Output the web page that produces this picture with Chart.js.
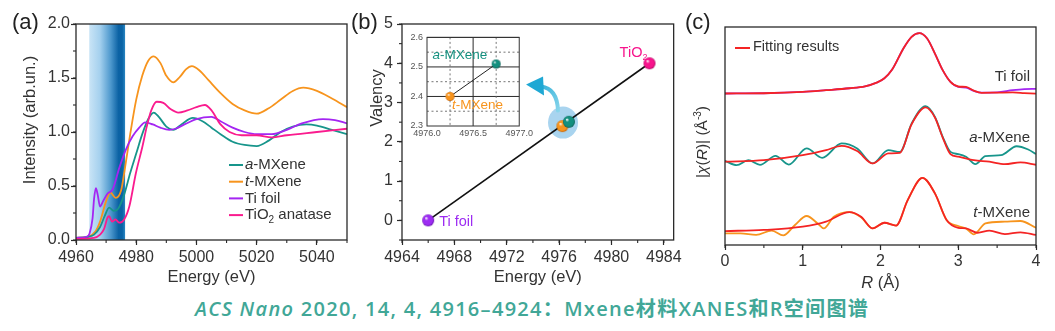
<!DOCTYPE html>
<html><head><meta charset="utf-8">
<script src="https://cdn.jsdelivr.net/npm/chart.js@4.4.1/dist/chart.umd.min.js"></script>
<style>
html,body{margin:0;padding:0;background:#fff;}
#wrap{position:relative;width:1055px;height:331px;overflow:hidden;background:#fff;}
canvas{position:absolute;}
.pl{position:absolute;font-family:'Liberation Sans',Arial,sans-serif;font-size:22px;line-height:22px;color:#222;}
#cap{position:absolute;left:195px;top:297px;font-family:'Open Sans','Noto Sans CJK SC',sans-serif;font-weight:600;font-size:20px;letter-spacing:1.3px;line-height:24px;color:#41a797;white-space:nowrap;}
</style></head><body>
<div id="wrap">
<canvas id="cA" width="352" height="295" style="left:0;top:0"></canvas>
<canvas id="cB" width="335" height="295" style="left:350px;top:0"></canvas>
<canvas id="cI" width="140" height="115" style="left:395px;top:28px"></canvas>
<canvas id="cC" width="375" height="295" style="left:680px;top:0"></canvas>
<div class="pl" style="left:12px;top:11px">(a)</div>
<div class="pl" style="left:351px;top:11px">(b)</div>
<div class="pl" style="left:685px;top:11px">(c)</div>
<div id="cap"><i>ACS Nano</i> 2020, 14, 4, 4916–4924：Mxene材料XANES和R空间图谱</div>
</div>
<script>
const FONT = "'Liberation Sans', Arial, sans-serif";
const NARROW = "'Liberation Sans Narrow', 'Arial Narrow', 'Liberation Sans', Arial, sans-serif";
const INK = '#2a2a2a';

// ---------- Panel (a): Ti K-edge XANES ----------
const xanesXTicks = [4960, 4980, 5000, 5020, 5040];
const xanesYTicks = [0, 0.5, 1.0, 1.5, 2.0];
const edgeBand = [4964.4, 4976.3];
const xanesNames = ['a-MXene', 't-MXene', 'Ti foil', 'TiO2 anatase'];
const xanesColors = ['#17958b', '#f7941d', '#a425f2', '#fa1b8e'];

const aMxE = [4960,4964,4966,4968,4969.5,4971,4972.5,4974,4976,4978,4980,4982,4984,4985.8,4987.5,4990,4992.3,4995,4998.8,5002,5005,5008,5012,5016,5020,5024,5028,5032,5036.5,5040,5045,5050];
const aMxI = [0.02,0.03,0.05,0.12,0.22,0.30,0.27,0.29,0.42,0.62,0.80,0.98,1.12,1.18,1.14,1.05,1.02,1.07,1.13,1.10,1.04,0.98,0.91,0.88,0.87,0.92,1.00,1.05,1.07,1.06,1.02,0.98];

const tMxE = [4960,4964,4966.5,4968,4970,4971.4,4973.2,4975,4976,4978,4980,4982,4984,4985.8,4988,4990,4992.3,4994.5,4996.5,4998.5,5001,5004,5008,5012,5016,5020,5024,5028,5032,5035.5,5040,5045,5050];
const tMxI = [0.02,0.03,0.08,0.17,0.36,0.44,0.39,0.46,0.62,0.98,1.30,1.52,1.66,1.70,1.64,1.52,1.46,1.51,1.58,1.61,1.57,1.48,1.36,1.26,1.20,1.17,1.22,1.30,1.38,1.41,1.38,1.31,1.23];

const tiE = [4960,4963.5,4964.5,4965.5,4966,4966.6,4967.2,4968,4969,4970.5,4972.2,4974.4,4976.6,4978.8,4981,4983,4985.5,4988,4991,4993,4996,5000,5005,5008,5012,5016,5020,5025,5030,5035,5042,5046,5050];
const tiI = [0.02,0.03,0.06,0.20,0.38,0.48,0.42,0.31,0.36,0.43,0.47,0.67,0.84,0.96,1.04,1.09,1.07,1.04,1.02,1.03,1.07,1.12,1.14,1.10,1.04,1.00,0.98,0.98,1.02,1.08,1.12,1.11,1.08];

const tio2E = [4960,4966,4968,4969.3,4970.5,4971,4972,4973.1,4974.4,4976,4977.7,4979.9,4982.1,4983.5,4985,4986.8,4989,4991.5,4994,4997,5000,5002.8,5005,5008,5011,5015,5020,5025,5030,5040,5050];
const tio2I = [0.01,0.02,0.05,0.10,0.21,0.22,0.17,0.19,0.16,0.19,0.31,0.62,0.87,1.05,1.20,1.28,1.27,1.21,1.18,1.20,1.23,1.25,1.20,1.07,1.00,0.97,0.97,0.95,0.97,1.00,1.03];

// ---------- Panel (b): valency vs edge energy ----------
const valNames = ['Ti foil', 't-MXene', 'a-MXene', 'TiO2'];
const valEnergy = [4966.0, 4976.25, 4976.75, 4982.9];
const valValency = [0, 2.40, 2.51, 4.00];
const valColors = ['#9d2cf2', '#f7941d', '#14907f', '#f7148c'];
const valDark = ['#5e0aa8', '#c25f00', '#05574c', '#a8005a'];
const fitE = [4966.0, 4982.9];
const fitV = [0, 4.0];
const valXTicks = [4964, 4968, 4972, 4976, 4980, 4984];
const valYTicks = [0, 1, 2, 3, 4, 5];
const insetXTicks = [4976.0, 4976.5, 4977.0];
const insetYTicks = [2.3, 2.4, 2.5, 2.6];
const highlight = [4976.3, 2.49];

// ---------- Panel (c): |chi(R)| ----------
const rXTicks = [0, 1, 2, 3, 4];
const rTiR   = [0,0.5,1.0,1.3,1.6,1.8,1.95,2.05,2.15,2.3,2.4,2.5,2.6,2.7,2.8,2.9,3.0,3.1,3.2,3.3,3.5,3.7,3.85,4.0];
const rTiY   = [6.95,6.96,7.02,7.10,7.19,7.28,7.45,7.65,8.05,9.05,9.55,9.72,9.47,8.78,8.02,7.48,7.25,7.22,7.07,6.99,7.00,7.10,7.15,7.16];
const rTiFitR = [0,0.5,1.0,1.3,1.6,1.8,1.95,2.05,2.15,2.3,2.4,2.5,2.6,2.7,2.8,2.9,3.0,3.1,3.2,3.3,3.5,3.7,3.85,4.0];
const rTiFitY = [6.95,6.96,7.02,7.10,7.19,7.28,7.45,7.65,8.05,9.05,9.55,9.72,9.47,8.78,8.02,7.48,7.27,7.25,7.08,6.98,6.99,7.00,6.97,6.94];
const rAR    = [0,0.15,0.3,0.45,0.65,0.82,1.05,1.25,1.5,1.7,1.9,2.1,2.25,2.4,2.58,2.7,2.8,2.9,3.0,3.1,3.22,3.35,3.55,3.75,3.9,4.0];
const rAY    = [3.86,3.66,3.89,3.68,4.09,3.69,4.43,4.00,4.66,4.43,3.74,4.35,4.27,5.57,6.37,5.88,4.96,4.27,4.17,4.05,3.71,4.08,4.12,4.53,4.38,4.17];
const rAFitR = [0,0.5,1.0,1.3,1.5,1.7,1.9,2.1,2.25,2.4,2.58,2.7,2.8,2.9,3.0,3.2,3.4,3.6,3.8,4.0];
const rAFitY = [3.82,3.89,4.12,4.35,4.55,4.31,3.74,4.20,4.23,5.54,6.31,5.85,4.93,4.17,4.05,3.89,3.82,3.71,3.79,3.68];
const rTR    = [0,0.2,0.4,0.6,0.75,0.9,1.05,1.2,1.27,1.4,1.6,1.75,1.9,2.05,2.2,2.35,2.54,2.7,2.85,3.0,3.1,3.2,3.35,3.6,3.8,4.0];
const rTY    = [0.53,0.53,0.46,0.66,0.44,0.92,1.33,0.96,0.76,1.30,1.51,1.27,0.76,1.02,0.89,2.06,3.08,2.37,1.15,0.87,0.76,0.49,0.99,1.07,1.10,0.79];
const rTFitR = [0,0.5,1.0,1.3,1.6,1.75,1.9,2.05,2.2,2.35,2.54,2.7,2.85,3.0,3.1,3.25,3.4,3.6,3.8,4.0];
const rTFitY = [0.64,0.69,0.84,1.07,1.51,1.30,0.76,1.02,0.89,2.06,3.08,2.37,1.15,0.79,0.76,0.56,0.66,0.50,0.58,0.46];
const rNames = ['Ti foil', 'a-MXene', 't-MXene'];
const rColors = ['#a425f2', '#17958b', '#f7941d'];
const fitColor = '#f42424';

// ---------- helpers ----------
const pts = (xs, ys) => xs.map((x, i) => ({x, y: ys[i]}));
function richParts(s) {
  const m = s.match(/^([at])-(.*)$/);
  if (m) return [{t: m[1], it: true}, {t: '-' + m[2]}];
  const k = s.indexOf('TiO2');
  if (k >= 0) return [{t: s.slice(0, k) + 'TiO'}, {t: '2', sub: true}, {t: s.slice(k + 4)}].filter(p => p.t);
  return [{t: s}];
}
function rich(ctx, parts, x, y, o) {
  const size = o.size, fam = o.family || FONT;
  const f = p => (p.it ? 'italic ' : '') + ((p.sub || p.sup) ? Math.round(size * 0.65) : size) + 'px ' + fam;
  let w = 0;
  parts.forEach(p => { ctx.font = f(p); w += ctx.measureText(p.t).width; });
  let cx = o.align === 'right' ? x - w : o.align === 'center' ? x - w / 2 : x;
  ctx.fillStyle = o.color || '#333'; ctx.textBaseline = 'middle'; ctx.textAlign = 'left';
  parts.forEach(p => {
    ctx.font = f(p);
    const dy = p.sub ? size * 0.32 : p.sup ? -size * 0.32 : 0;
    ctx.fillText(p.t, cx, y + dy);
    cx += ctx.measureText(p.t).width;
  });
}
function richRot(ctx, parts, x, y, o) {
  ctx.save(); ctx.translate(x, y); ctx.rotate(-Math.PI / 2);
  rich(ctx, parts, 0, 0, Object.assign({}, o, {align: 'center'}));
  ctx.restore();
}
function axis(o) {
  return {
    type: 'linear', min: o.min, max: o.max, display: o.display !== false,
    afterBuildTicks: s => { s.ticks = o.ticks.map(v => ({value: v})); },
    afterFit: s => { if (o.size != null) { if (s.isHorizontal()) s.height = o.size; else s.width = o.size; } },
    grid: {drawOnChartArea: false, drawTicks: o.tickLen !== 0, tickLength: o.tickLen == null ? 5 : o.tickLen, tickColor: INK, tickWidth: 1.2},
    border: {display: false},
    ticks: {font: {family: o.family || FONT, size: o.fontSize || 16}, color: o.color || '#333', padding: o.pad || 0,
            callback: o.fmt || (v => String(v)), maxRotation: 0, autoSkip: false}
  };
}
const frame = {
  id: 'frame',
  afterDraw(chart, args, opt) {
    const {ctx, chartArea: a} = chart;
    ctx.save();
    ctx.strokeStyle = opt.color || INK; ctx.lineWidth = opt.width || 1.3;
    ctx.strokeRect(a.left, a.top, a.right - a.left, a.bottom - a.top);
    (opt.minor || []).forEach(m => {
      const s = chart.scales[m.axis];
      for (let v = m.start; v <= s.max + 1e-9; v += m.step) {
        if (v < s.min - 1e-9) continue;
        const p = s.getPixelForValue(v);
        ctx.beginPath();
        if (s.isHorizontal()) { ctx.moveTo(p, a.bottom); ctx.lineTo(p, a.bottom + 3); }
        else { ctx.moveTo(a.left, p); ctx.lineTo(a.left - 3, p); }
        ctx.lineWidth = 1.1; ctx.stroke();
      }
    });
    ctx.restore();
  }
};
const lineDs = (label, data, color, w) => ({label, data, borderColor: color, backgroundColor: color, borderWidth: w || 1.8,
  pointRadius: 0, cubicInterpolationMode: 'monotone', fill: false});
const base = {responsive: false, animation: false, devicePixelRatio: 1, events: [],
  plugins: {legend: {display: false}, tooltip: {enabled: false}}};

// ---------- chart (a) ----------
const xanesDeco = {
  id: 'xanesDeco',
  beforeDatasetsDraw(chart) {
    const {ctx, chartArea: a, scales: {x}} = chart;
    const x0 = x.getPixelForValue(edgeBand[0]), x1 = x.getPixelForValue(edgeBand[1]);
    const g = ctx.createLinearGradient(x0, 0, x1, 0);
    g.addColorStop(0, '#c9e4f6'); g.addColorStop(0.3, '#a4d0ee'); g.addColorStop(0.6, '#4d98cd');
    g.addColorStop(0.82, '#0b62a4'); g.addColorStop(0.92, '#0a64a6'); g.addColorStop(1, '#2a86c2');
    ctx.save(); ctx.fillStyle = g; ctx.fillRect(x0, a.top, x1 - x0, a.bottom - a.top); ctx.restore();
  },
  afterDraw(chart) {
    const {ctx, chartArea: a} = chart;
    ctx.save();
    xanesNames.forEach((n, i) => {
      const y = a.top + 141 + i * 16.7;
      ctx.strokeStyle = xanesColors[i]; ctx.lineWidth = 2;
      ctx.beginPath(); ctx.moveTo(a.left + 153, y); ctx.lineTo(a.left + 167, y); ctx.stroke();
      rich(ctx, richParts(n), a.left + 169, y, {size: 15, color: '#333'});
    });
    rich(ctx, [{t: 'Energy (eV)'}], (a.left + a.right) / 2, a.bottom + 37, {size: 16.5, align: 'center', color: '#333'});
    richRot(ctx, [{t: 'Intensity (arb.un.)'}], a.left - 46, a.top + 96, {size: 16.5, color: '#333'});
    ctx.restore();
  }
};
new Chart(document.getElementById('cA'), {
  type: 'line',
  data: {datasets: [
    lineDs(xanesNames[3], pts(tio2E, tio2I), xanesColors[3]),
    lineDs(xanesNames[2], pts(tiE, tiI), xanesColors[2]),
    lineDs(xanesNames[0], pts(aMxE, aMxI), xanesColors[0]),
    lineDs(xanesNames[1], pts(tMxE, tMxI), xanesColors[1])
  ]},
  options: Object.assign({}, base, {
    layout: {padding: {top: 24, right: 5, left: 0, bottom: 0}},
    scales: {
      x: axis({min: 4960, max: 5050, ticks: xanesXTicks, size: 55, family: NARROW, pad: 3}),
      y: axis({min: 0, max: 2.0, ticks: xanesYTicks, size: 76, pad: 1, fmt: v => v.toFixed(1)})
    },
    plugins: Object.assign({}, base.plugins, {frame: {minor: [{axis: 'x', start: 4960, step: 10}, {axis: 'y', start: 0, step: 0.25}]}})
  }),
  plugins: [xanesDeco, frame]
});

// ---------- chart (b) ----------
function sphere(color, dark, r) {
  const c = document.createElement('canvas'); c.width = c.height = 2 * r + 2;
  const g = c.getContext('2d'); const cx = r + 1;
  const grad = g.createRadialGradient(cx - r * 0.35, cx - r * 0.4, r * 0.05, cx, cx, r);
  grad.addColorStop(0, '#ffffff'); grad.addColorStop(0.28, color); grad.addColorStop(0.8, color); grad.addColorStop(1, dark);
  g.fillStyle = grad; g.beginPath(); g.arc(cx, cx, r, 0, Math.PI * 2); g.fill();
  return c;
}
const bigSpheres = valColors.map((c, i) => sphere(c, valDark[i], 6));
const smallSpheres = valColors.map((c, i) => sphere(c, valDark[i], 4.5));
const valDeco = {
  id: 'valDeco',
  beforeDatasetsDraw(chart) {
    const {ctx, scales: {x, y}} = chart;
    const ex = x.getPixelForValue(highlight[0]), ey = y.getPixelForValue(highlight[1]);
    ctx.save();
    ctx.fillStyle = '#a9d4ef';
    ctx.beginPath(); ctx.ellipse(ex, ey, 15, 16, 0, 0, Math.PI * 2); ctx.fill();
    // curved arrow toward the inset
    const g = ctx.createLinearGradient(ex - 36, ey - 38, ex - 5, ey - 10);
    g.addColorStop(0, '#1aa6d2'); g.addColorStop(1, '#8ad6ec');
    ctx.strokeStyle = g; ctx.lineWidth = 4; ctx.lineCap = 'round';
    ctx.beginPath(); ctx.moveTo(ex - 5, ey - 12); ctx.quadraticCurveTo(ex - 6, ey - 34, ex - 22, ey - 36); ctx.stroke();
    ctx.fillStyle = '#1fa8d4';
    ctx.beginPath(); ctx.moveTo(ex - 37, ey - 38); ctx.lineTo(ex - 20, ey - 46); ctx.lineTo(ex - 19, ey - 27); ctx.closePath(); ctx.fill();
    ctx.restore();
  },
  afterDraw(chart) {
    const {ctx, chartArea: a, scales: {x, y}} = chart;
    ctx.save();
    const p0 = [x.getPixelForValue(valEnergy[0]), y.getPixelForValue(valValency[0])];
    rich(ctx, richParts(valNames[0]), p0[0] + 11, p0[1] + 2, {size: 14.5, color: valColors[0]});
    const p3 = [x.getPixelForValue(valEnergy[3]), y.getPixelForValue(valValency[3])];
    rich(ctx, richParts(valNames[3]), p3[0] - 2, p3[1] - 10, {size: 14.5, color: valColors[3], align: 'right'});
    rich(ctx, [{t: 'Energy (eV)'}], (a.left + a.right) / 2, a.bottom + 37, {size: 16.5, align: 'center', color: '#333'});
    richRot(ctx, [{t: 'Valency'}], a.left - 25, a.top + 74, {size: 16.5, color: '#333'});
    ctx.restore();
  }
};
new Chart(document.getElementById('cB'), {
  type: 'line',
  data: {datasets: [
    {label: 'samples', data: pts(valEnergy, valValency), showLine: false, pointStyle: bigSpheres, pointRadius: 6},
    {label: 'fit', data: pts(fitE, fitV), borderColor: '#111', borderWidth: 1.6, pointRadius: 0, fill: false}
  ]},
  options: Object.assign({}, base, {
    layout: {padding: {top: 24, right: 10, left: 0, bottom: 0}},
    scales: {
      x: axis({min: 4964, max: 4984.75, ticks: valXTicks, size: 55, family: NARROW, pad: 3}),
      y: axis({min: -0.5, max: 5, ticks: valYTicks, size: 52, pad: 4})
    },
    plugins: Object.assign({}, base.plugins, {frame: {minor: [{axis: 'x', start: 4964, step: 2}, {axis: 'y', start: -0.5, step: 0.5}]}})
  }),
  plugins: [valDeco, frame]
});

// ---------- inset of (b) ----------
const insetDeco = {
  id: 'insetDeco',
  beforeDatasetsDraw(chart) {
    const {ctx, chartArea: a, scales: {x, y}} = chart;
    ctx.save();
    const lines = [];
    for (let v = 2.35; v < 2.6; v += 0.05) lines.push({axis: y, v: v});
    for (let v = 4976.25; v < 4977; v += 0.25) lines.push({axis: x, v: v});
    lines.forEach(L => {
      const major = L.axis === y ? Math.abs(Math.round(L.v * 10) - L.v * 10) < 1e-6 : Math.abs(Math.round(L.v * 2) - L.v * 2) < 1e-6;
      ctx.setLineDash(major ? [] : [2, 2.5]);
      ctx.strokeStyle = major ? '#2a2a2a' : '#666'; ctx.lineWidth = major ? 1 : 0.9;
      const p = L.axis.getPixelForValue(L.v);
      ctx.beginPath();
      if (L.axis === y) { ctx.moveTo(a.left, p); ctx.lineTo(a.right, p); } else { ctx.moveTo(p, a.top); ctx.lineTo(p, a.bottom); }
      ctx.stroke();
    });
    ctx.restore();
  },
  afterDraw(chart) {
    const {ctx, scales: {x, y}} = chart;
    ctx.save();
    const pa = [x.getPixelForValue(valEnergy[2]), y.getPixelForValue(valValency[2])];
    const pt = [x.getPixelForValue(valEnergy[1]), y.getPixelForValue(valValency[1])];
    rich(ctx, richParts(valNames[2]), pa[0] - 9, pa[1] - 9, {size: 13.5, color: valColors[2], align: 'right'});
    rich(ctx, richParts(valNames[1]), pt[0] + 2, pt[1] + 9, {size: 13.5, color: valColors[1]});
    ctx.restore();
  }
};
new Chart(document.getElementById('cI'), {
  type: 'line',
  data: {datasets: [
    {label: 'mx', data: pts(valEnergy.slice(1, 3), valValency.slice(1, 3)), showLine: false,
     pointStyle: smallSpheres.slice(1, 3), pointRadius: 4.5},
    {label: 'link', data: pts(valEnergy.slice(1, 3), valValency.slice(1, 3)), borderColor: '#222', borderWidth: 1, pointRadius: 0}
  ]},
  options: Object.assign({}, base, {
    layout: {padding: {top: 6, right: 10, left: 0, bottom: 0}},
    scales: {
      x: axis({min: 4976, max: 4977, ticks: insetXTicks, size: 17, fontSize: 9, pad: 2, tickLen: 0, color: '#555', fmt: v => v.toFixed(1)}),
      y: axis({min: 2.3, max: 2.6, ticks: insetYTicks, size: 32, fontSize: 9, pad: 4, tickLen: 0, color: '#555', fmt: v => v.toFixed(1)})
    },
    plugins: Object.assign({}, base.plugins, {frame: {color: '#333', width: 1}})
  }),
  plugins: [insetDeco, frame]
});

// ---------- chart (c) ----------
const rDeco = {
  id: 'rDeco',
  afterDraw(chart) {
    const {ctx, chartArea: a} = chart;
    ctx.save();
    ctx.strokeStyle = fitColor; ctx.lineWidth = 2;
    ctx.beginPath(); ctx.moveTo(a.left + 10, a.top + 21); ctx.lineTo(a.left + 25, a.top + 21); ctx.stroke();
    rich(ctx, [{t: 'Fitting results'}], a.left + 28, a.top + 20, {size: 14.5, color: '#333'});
    const ys = [50, 111, 186];
    rNames.forEach((n, i) => rich(ctx, richParts(n), a.right - 6, a.top + ys[i], {size: 15, color: '#333', align: 'right'}));
    rich(ctx, [{t: 'R', it: true}, {t: ' (Å)'}], (a.left + a.right) / 2, a.bottom + 38, {size: 16.5, align: 'center', color: '#333'});
    richRot(ctx, [{t: '|'}, {t: 'χ', it: true}, {t: '('}, {t: 'R', it: true}, {t: ')| (Å'}, {t: '-3', sup: true}, {t: ')'}],
      a.left - 22, a.top + 115, {size: 15.5, color: '#333'});
    ctx.restore();
  }
};
new Chart(document.getElementById('cC'), {
  type: 'line',
  data: {datasets: [
    lineDs('Ti foil fit', pts(rTiFitR, rTiFitY), fitColor),
    lineDs('a-MXene fit', pts(rAFitR, rAFitY), fitColor),
    lineDs('t-MXene fit', pts(rTFitR, rTFitY), fitColor),
    lineDs('Ti foil', pts(rTiR, rTiY), rColors[0]),
    lineDs('a-MXene', pts(rAR, rAY), rColors[1]),
    lineDs('t-MXene', pts(rTR, rTY), rColors[2])
  ]},
  options: Object.assign({}, base, {
    layout: {padding: {top: 27, right: 19, left: 45, bottom: 0}},
    scales: {
      x: axis({min: 0, max: 4, ticks: rXTicks, size: 50, family: NARROW, pad: 2}),
      y: axis({min: 0, max: 10, ticks: [], display: false})
    },
    plugins: Object.assign({}, base.plugins, {frame: {minor: [{axis: 'x', start: 0, step: 0.5}]}})
  }),
  plugins: [rDeco, frame]
});
</script>
</body></html>
